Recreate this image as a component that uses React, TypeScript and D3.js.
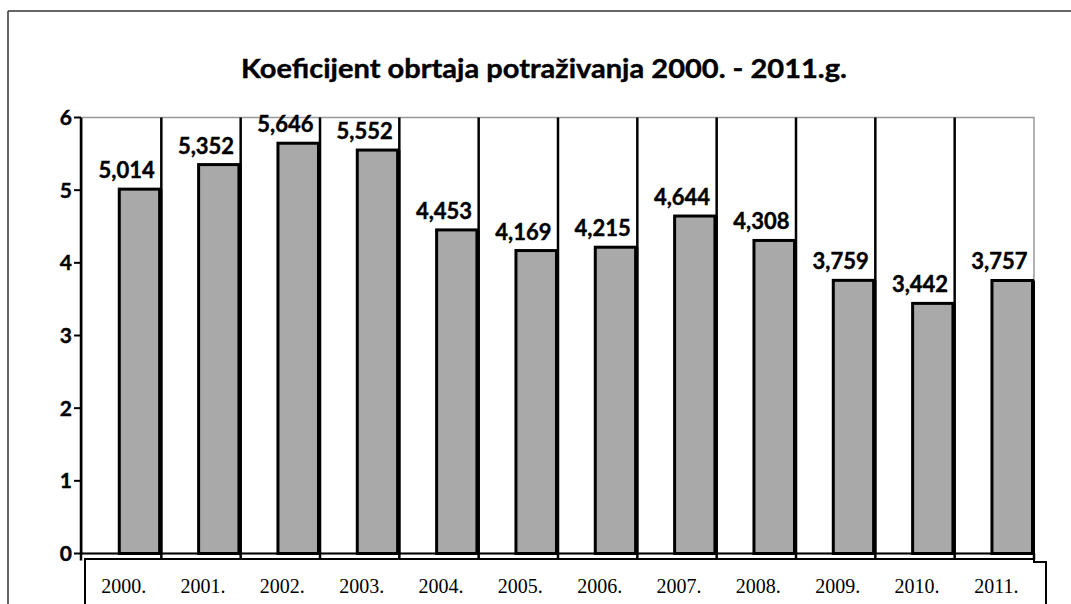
import React from "react";
import * as d3 from "d3";

const years = ["2000.", "2001.", "2002.", "2003.", "2004.", "2005.", "2006.", "2007.", "2008.", "2009.", "2010.", "2011."];
const values = [5.014, 5.352, 5.646, 5.552, 4.453, 4.169, 4.215, 4.644, 4.308, 3.759, 3.442, 3.757];
const yTicks = [0, 1, 2, 3, 4, 5, 6];
const title = "Koeficijent obrtaja potraživanja 2000. - 2011.g.";

const W = 1071;
const H = 604;
const left = 82;
const right = 1034;
const top = 117.5;
const bottom = 553.5;

const sans = "Lato, 'Open Sans', sans-serif";
const serif = "'Liberation Serif', 'DejaVu Serif', serif";
const fmt = (v: number) => d3.format(".3f")(v).replace(".", ",");

export default function App() {
  const x = d3.scaleBand<string>().domain(years).range([left, right]).paddingInner(0).paddingOuter(0);
  const y = d3.scaleLinear().domain([0, 6]).range([bottom, top]);
  const bw = x.bandwidth();
  const barW = bw * 0.53;

  return (
    <div style={{ position: "fixed", left: 0, top: 0 }}>
      <svg width={W} height={H} style={{ display: "block", background: "#fff" }}>
        {/* outer frame */}
        <line x1={8} y1={11} x2={W} y2={11} stroke="#333" strokeWidth={1.5} />
        <line x1={8} y1={11} x2={8} y2={H} stroke="#333" strokeWidth={1.5} />

        {/* title */}
        <text x={544} y={78} textAnchor="middle" fontFamily={sans} fontWeight={700} fontSize={27}
          textLength={606} lengthAdjust="spacingAndGlyphs" fill="#000" stroke="#000" strokeWidth={0.4}>{title}</text>

        {/* plot area border */}
        <rect x={left} y={top} width={right - left} height={bottom - top} fill="#fff" stroke="#999" strokeWidth={1.5} />

        {/* category separator lines */}
        {years.map((yr, i) => {
          const xr = (x(yr) as number) + bw;
          if (i === years.length - 1) return null;
          return <line key={"sep" + yr} x1={xr} y1={top} x2={xr} y2={bottom + 6} stroke="#000" strokeWidth={2.5} />;
        })}
        <line x1={right} y1={bottom} x2={right} y2={bottom + 6} stroke="#000" strokeWidth={2.5} />

        {/* bars */}
        {years.map((yr, i) => {
          const xr = (x(yr) as number) + bw;
          const x0 = xr - barW;
          const yt = y(values[i]);
          return (
            <g key={"bar" + yr}>
              <rect x={x0} y={yt} width={barW - 1.5} height={bottom - yt} fill="#a9a9a9" stroke="#000" strokeWidth={3} />
              <line x1={xr - 1} y1={yt} x2={xr - 1} y2={bottom + 1} stroke="#000" strokeWidth={4} />
            </g>
          );
        })}

        {/* value labels */}
        {years.map((yr, i) => {
          const cx = (x(yr) as number) + bw / 2 + 5;
          return (
            <text key={"lab" + yr} x={cx} y={y(values[i]) - 11} textAnchor="middle" fontFamily={sans}
              fontWeight={700} fontSize={22} fill="#000" stroke="#000" strokeWidth={0.4}>{fmt(values[i])}</text>
          );
        })}

        {/* bottom line of plot */}
        <line x1={left} y1={bottom} x2={right} y2={bottom} stroke="#000" strokeWidth={2} />

        {/* y axis */}
        <line x1={left - 1} y1={top} x2={left - 1} y2={bottom + 7} stroke="#000" strokeWidth={2.5} />
        {yTicks.map((t) => (
          <g key={"yt" + t}>
            <line x1={left - 8} y1={y(t)} x2={left - 1} y2={y(t)} stroke="#000" strokeWidth={2} />
            <text x={left - 10} y={y(t) + 7.5} textAnchor="end" fontFamily={sans} fontWeight={700} fontSize={21}
              fill="#000" stroke="#000" strokeWidth={0.4}>{t}</text>
          </g>
        ))}

        {/* x label box */}
        <path d={`M85,${H + 2} L85,559 L${right},559 L${right},562 L1046,562 L1046,${H + 2}`} fill="none" stroke="#000" strokeWidth={2} />
        {years.map((yr) => (
          <text key={"xl" + yr} x={(x(yr) as number) + bw / 2 + 2} y={593} textAnchor="middle" fontFamily={serif}
            fontSize={20} fill="#000">{yr}</text>
        ))}
      </svg>
    </div>
  );
}
